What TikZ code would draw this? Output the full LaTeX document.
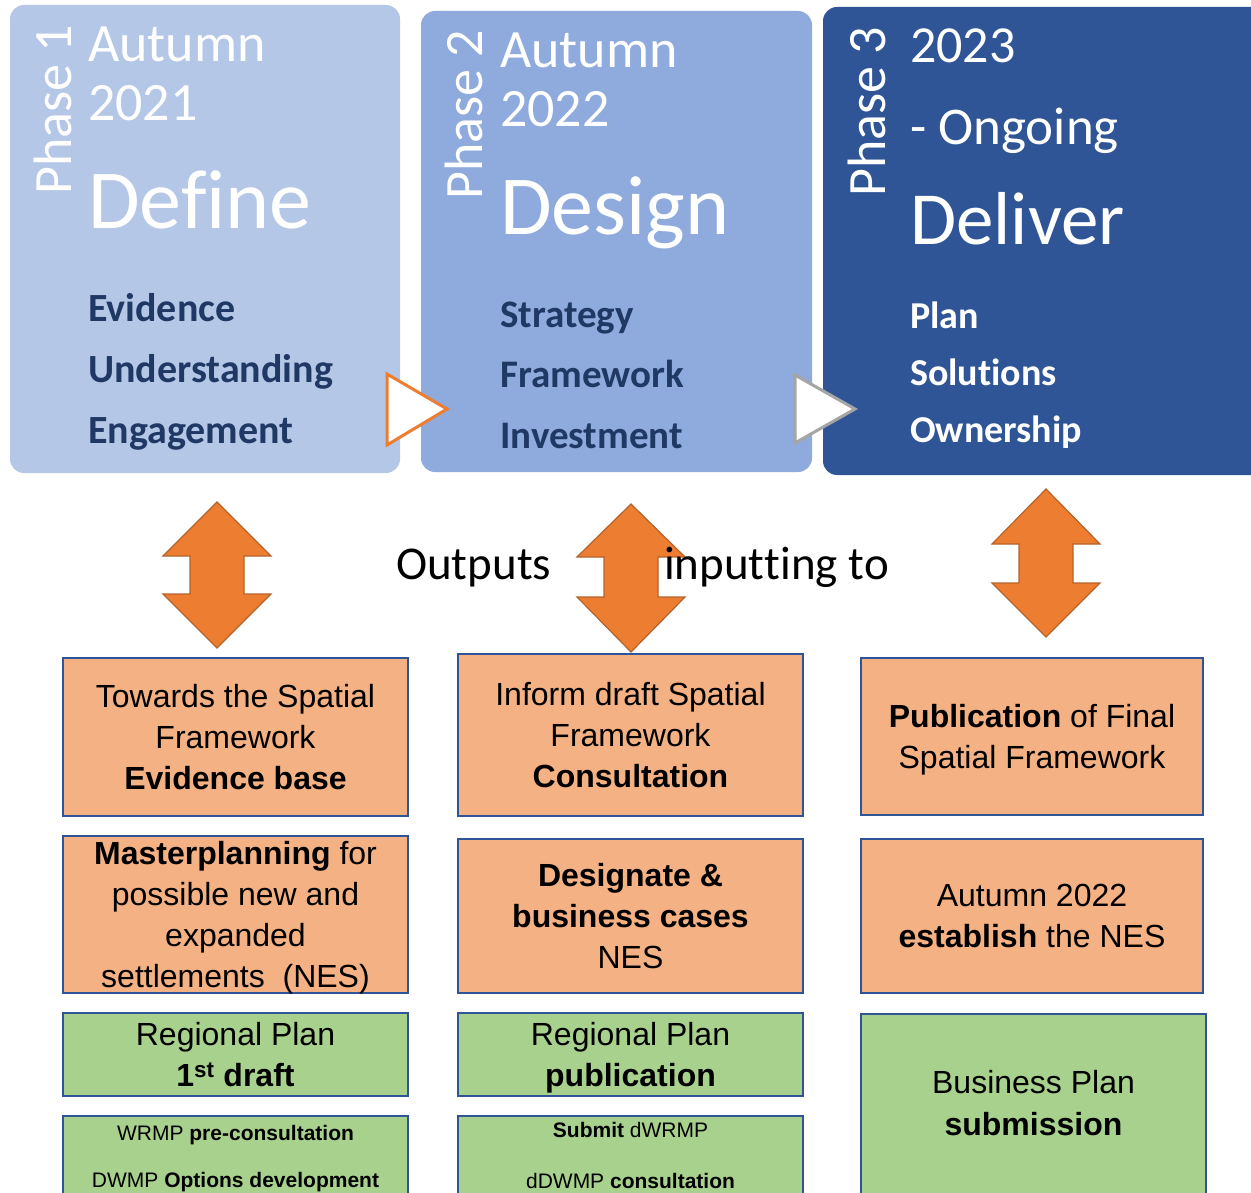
\documentclass[tikz,border=0pt]{standalone}
\usepackage{fontspec}
\setmainfont{Carlito}[Ligatures=CommonOff]
\newfontfamily\arialfont{Liberation Sans}
\usetikzlibrary{positioning}

\definecolor{defineblue}{HTML}{B4C7E7}
\definecolor{designblue}{HTML}{8FAADC}
\definecolor{deliverblue}{HTML}{2F5597}
\definecolor{navytext}{HTML}{203864}
\definecolor{outorange}{HTML}{F4B183}
\definecolor{outgreen}{HTML}{A9D18E}
\definecolor{boxline}{HTML}{2F5597}
\definecolor{arroworange}{HTML}{ED7D31}
\definecolor{arrowedge}{HTML}{B4632A}
\definecolor{chevgray}{HTML}{A5A5A5}

\tikzset{
	phasebox/.style={rounded corners=14pt},
	phaselabel/.style={rotate=90, anchor=base west, inner sep=0pt, white, font=\fontsize{54}{60}\selectfont},
	datetext/.style={anchor=base west, inner sep=0pt, white, font=\fontsize{#1}{60}\selectfont},
	datetext/.default=54,
	titletext/.style={anchor=base west, inner sep=0pt, white, font=\fontsize{#1}{90}\selectfont},
	titletext/.default=84,
	itemtext/.style={anchor=base west, inner sep=0pt, font=\bfseries\fontsize{#1}{44}\selectfont},
	itemtext/.default=40,
	outbox/.style={draw=boxline, line width=2pt, fill=outorange, inner sep=0pt, align=center, font=\arialfont\fontsize{32}{41}\selectfont},
	greenbox/.style={outbox, fill=outgreen},
	smalltext/.style={anchor=base, inner sep=0pt, font=\arialfont\fontsize{21}{24}\selectfont},
	dblarrow/.style={fill=arroworange, draw=arrowedge, line width=1.2pt, line join=miter},
	chevron/.style={fill=white, line width=3pt, line join=miter}
}

\begin{document}
\begin{tikzpicture}[x=1pt,y=-1pt]
	\useasboundingbox (0,0) rectangle (1251,1193);
	\clip (0,0) rectangle (1251,1193);
	\fill[white] (0,0) rectangle (1251,1193);
	
	%phase boxes
	\fill[defineblue,phasebox] (10,5) rectangle (400,473);
	\fill[designblue,phasebox] (421,11) rectangle (812,472);
	\fill[deliverblue,phasebox] (823,7) rectangle (1280,475);
	
	%chevrons between phases
	\filldraw[chevron,draw=arroworange] (387,374) -- (447,409) -- (387,445) -- cycle;
	\filldraw[chevron,draw=chevgray] (795,375) -- (855,409) -- (795,443) -- cycle;
	
	%phase 1
	\node[phaselabel] (ph1) at (71,195) {Phase 1};
	\node[datetext] (date1a) at (88,62) {Autumn};
	\node[datetext] (date1b) at (88,121) {2021};
	\node[titletext] (define) at (88,229) {Define};
	\node[itemtext,navytext] (evid) at (88,321) {Evidence};
	\node[itemtext,navytext] (under) at (88,382) {Understanding};
	\node[itemtext,navytext] (engage) at (88,443) {Engagement};
	%
	%phase 2
	\node[phaselabel] (ph2) at (482,200) {Phase 2};
	\node[datetext] (date2a) at (500,68) {Autumn};
	\node[datetext] (date2b) at (500,127) {2022};
	\node[titletext=84] (design) at (500,235) {Design};
	\node[itemtext=39,navytext] (strat) at (500,327) {Strategy};
	\node[itemtext=39,navytext] (frame) at (500,387) {Framework};
	\node[itemtext=39,navytext] (invest) at (500,448) {Investment};
	%
	%phase 3
	\node[phaselabel] (ph3) at (885,197) {Phase 3};
	\node[datetext=52] (date3a) at (910,63) {2023};
	\node[datetext=53] (date3b) at (910,145) {- Ongoing};
	\node[titletext=75] (deliver) at (910,245) {Deliver};
	\node[itemtext=38,white] (plan) at (910,328) {Plan};
	\node[itemtext=38,white] (solut) at (910,385) {Solutions};
	\node[itemtext=38,white] (owner) at (910,442) {Ownership};
	
	%double arrows
	\foreach \cx/\ty/\hb/\lb/\by in {217/502/556/594/648, 631/504/557/597/652, 1046/489/544/583/637}
		\filldraw[dblarrow] (\cx,\ty) -- (\cx+54,\hb) -- (\cx+27,\hb) -- (\cx+27,\lb) -- (\cx+54,\lb)
			-- (\cx,\by) -- (\cx-54,\lb) -- (\cx-27,\lb) -- (\cx-27,\hb) -- (\cx-54,\hb) -- cycle;
	
	\node[anchor=base west, inner sep=0pt, font=\fontsize{47}{50}\selectfont] (outlbl) at (396,579) {Outputs};
	\node[anchor=base west, inner sep=0pt, font=\fontsize{47}{50}\selectfont] (inlbl) at (664,579) {input\kern0pt ting to};
	
	%outputs - orange
	\node[outbox, minimum width=345pt, minimum height=158pt] (evbase) at (235.5,737) {Towards the Spatial\\Framework\\\textbf{Evidence base}};
	\node[outbox, minimum width=345pt, minimum height=162pt] (consult) at (630.5,735) {Inform draft Spatial\\Framework\\\textbf{Consultation}};
	\node[outbox, minimum width=342pt, minimum height=157pt, text depth=0pt] (publish) at (1032,736.5) {\textbf{Publication} of Final\\Spatial Framework};
	%
	\node[outbox, minimum width=345pt, minimum height=157pt, text depth=0pt] (master) at (235.5,914.5) {\textbf{Masterplanning} for\\possible new and\\expanded\\settlements~~(NES)};
	\node[outbox, minimum width=345pt, minimum height=154pt] (designate) at (630.5,916) {\textbf{Designate \&}\\\textbf{business cases}\\NES};
	\node[outbox, minimum width=342pt, minimum height=154pt] (establish) at (1032,916) {Autumn 2022\\\textbf{establish} the NES};
	
	%outputs - green
	\node[greenbox, minimum width=345pt, minimum height=83pt] (regplan1) at (235.5,1054.5) {Regional Plan\\\textbf{1\textsuperscript{st} draft}};
	\node[greenbox, minimum width=345pt, minimum height=83pt, text depth=0pt] (regplan2) at (630.5,1054.5) {Regional Plan\\\textbf{publication}};
	\node[greenbox, minimum width=345pt, minimum height=200pt, anchor=north] (bizplan) at (1033.5,1013) {};
	\node[align=center, inner sep=0pt, font=\arialfont\fontsize{32}{42}\selectfont] (bizplantxt) at (1033.5,1103) {Business Plan\\\textbf{submission}};
	%
	\node[greenbox, minimum width=345pt, minimum height=150pt, anchor=north] (wrmp1) at (235.5,1115) {};
	\node[smalltext] (wrmp1a) at (235.5,1140) {WRMP \textbf{pre-consultation}};
	\node[smalltext] (wrmp1b) at (235.5,1187) {DWMP \textbf{Options development}};
	\node[greenbox, minimum width=345pt, minimum height=150pt, anchor=north] (wrmp2) at (630.5,1115) {};
	\node[smalltext] (wrmp2a) at (630.5,1137) {\textbf{Submit} dWRMP};
	\node[smalltext] (wrmp2b) at (630.5,1188) {dDWMP \textbf{consultation}};
	
	%\draw[help lines] (0,0) grid[step=50] (1251,1193);
\end{tikzpicture}
\end{document}
